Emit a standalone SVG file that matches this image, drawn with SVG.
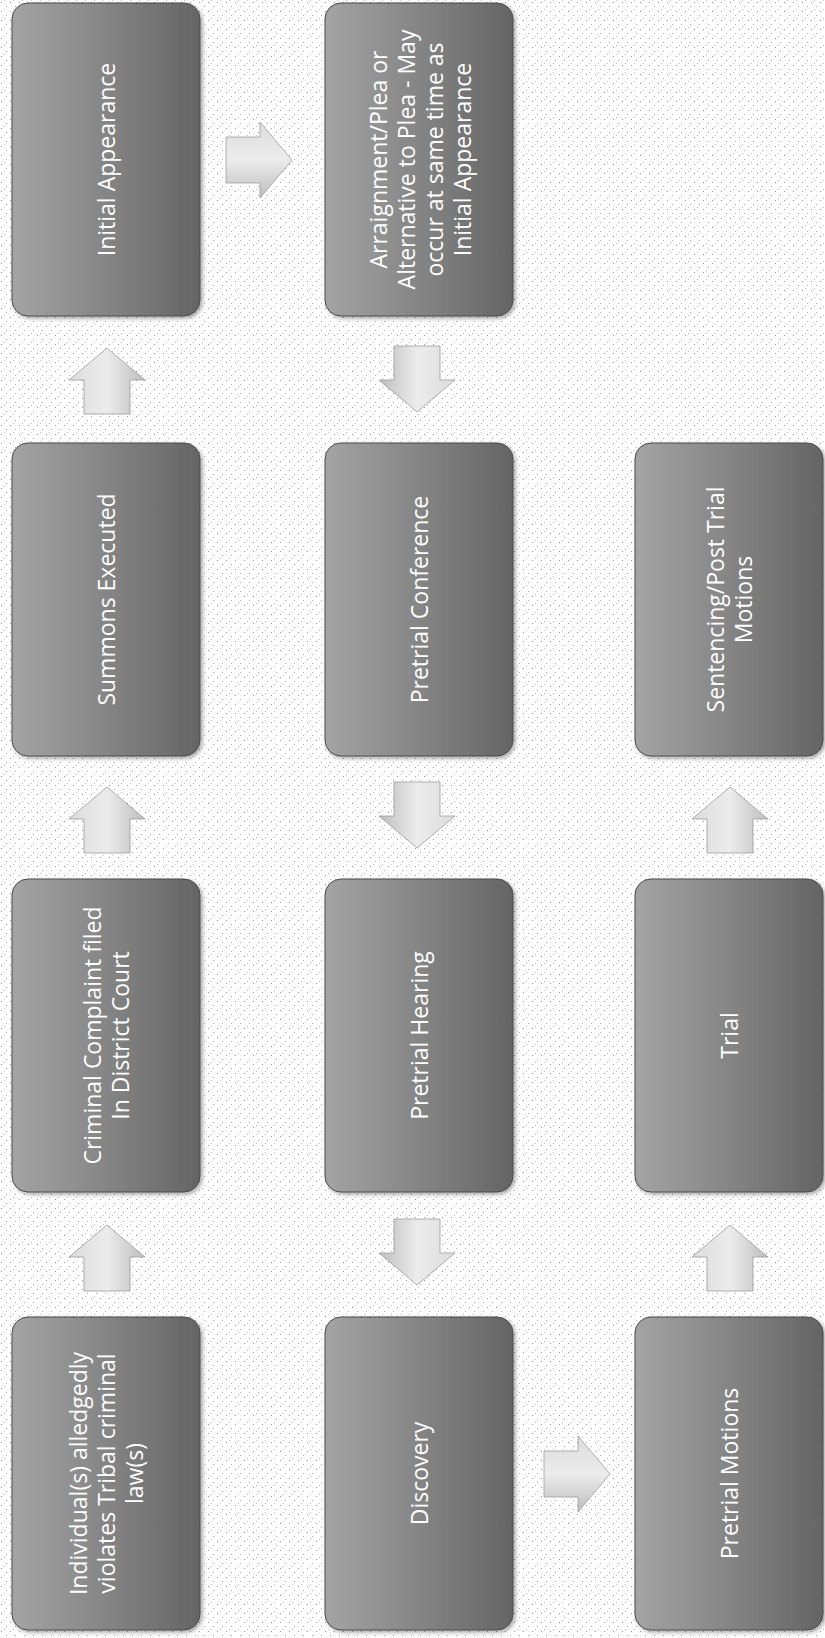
<svg xmlns="http://www.w3.org/2000/svg" width="825" height="1638" viewBox="0 0 825 1638">
<defs>
<style>
.box{fill:url(#boxGrad);stroke:#4a4a4a;stroke-width:1;filter:url(#shadow)}
.lbl{font-family:"Open Sans","Liberation Sans",sans-serif;font-size:23px;fill:#ffffff;text-anchor:middle;dominant-baseline:central}
.arrow{fill:url(#arrowGrad);stroke:#9c9c9c;stroke-width:0.8}
</style>
<pattern id="speck" width="9" height="9" patternUnits="userSpaceOnUse">
<rect x="1" y="2" width="1" height="1" fill="#9a9a9a"/>
<rect x="6" y="6" width="1" height="1" fill="#b0b0b0"/>
<rect x="4" y="0" width="1" height="1" fill="#c4c4c4"/>
</pattern>
<linearGradient id="boxGrad" x1="0" y1="0" x2="1" y2="0">
<stop offset="0" stop-color="#a4a4a4"/>
<stop offset="0.5" stop-color="#858585"/>
<stop offset="1" stop-color="#646464"/>
</linearGradient>
<linearGradient id="arrowGrad" x1="0" y1="0" x2="1" y2="0">
<stop offset="0" stop-color="#dcdcdc"/>
<stop offset="0.5" stop-color="#ececec"/>
<stop offset="1" stop-color="#bdbdbd"/>
</linearGradient>
<filter id="shadow" x="-10%" y="-10%" width="125%" height="125%">
<feDropShadow dx="2" dy="2" stdDeviation="2" flood-color="#000" flood-opacity="0.35"/>
</filter>
<path id="arr" d="M0,0 L38,32 L23,32 L23,66 L-23,66 L-23,32 L-38,32 Z"/>
</defs>
<rect width="825" height="1638" fill="#ffffff"/>
<rect width="825" height="1638" fill="url(#speck)"/>

<g id="connectors">
<use href="#arr" class="arrow" transform="translate(107,1225)"/>
<use href="#arr" class="arrow" transform="translate(107,787)"/>
<use href="#arr" class="arrow" transform="translate(107,348)"/>
<use href="#arr" class="arrow" transform="translate(292,160) rotate(90)"/>
<use href="#arr" class="arrow" transform="translate(417,412) rotate(180)"/>
<use href="#arr" class="arrow" transform="translate(417,848) rotate(180)"/>
<use href="#arr" class="arrow" transform="translate(417,1285) rotate(180)"/>
<use href="#arr" class="arrow" transform="translate(610,1474) rotate(90)"/>
<use href="#arr" class="arrow" transform="translate(730,1225)"/>
<use href="#arr" class="arrow" transform="translate(730,787)"/>
</g>

<g id="n1">
<rect class="box" x="12" y="1317" width="188" height="313" rx="16"/>
<text class="lbl" transform="translate(106,1473.5) rotate(-90)"><tspan x="0" y="-28">Individual(s) alledgedly</tspan><tspan x="0" y="0">violates Tribal criminal</tspan><tspan x="0" y="28">law(s)</tspan></text>
</g>
<g id="n2">
<rect class="box" x="12" y="879" width="188" height="313" rx="16"/>
<text class="lbl" transform="translate(106,1035.5) rotate(-90)"><tspan x="0" y="-14">Criminal Complaint filed</tspan><tspan x="0" y="14">In District Court</tspan></text>
</g>
<g id="n3">
<rect class="box" x="12" y="443" width="188" height="313" rx="16"/>
<text class="lbl" transform="translate(106,599.5) rotate(-90)"><tspan x="0" y="0">Summons Executed</tspan></text>
</g>
<g id="n4">
<rect class="box" x="12" y="3" width="188" height="313" rx="16"/>
<text class="lbl" transform="translate(106,159.5) rotate(-90)"><tspan x="0" y="0">Initial Appearance</tspan></text>
</g>
<g id="n5">
<rect class="box" x="325" y="3" width="188" height="313" rx="16"/>
<text class="lbl" transform="translate(420,159.5) rotate(-90)"><tspan x="0" y="-42">Arraignment/Plea or</tspan><tspan x="0" y="-14">Alternative to Plea - May</tspan><tspan x="0" y="14">occur at same time as</tspan><tspan x="0" y="42">Initial Appearance</tspan></text>
</g>
<g id="n6">
<rect class="box" x="325" y="443" width="188" height="313" rx="16"/>
<text class="lbl" transform="translate(419,599.5) rotate(-90)"><tspan x="0" y="0">Pretrial Conference</tspan></text>
</g>
<g id="n7">
<rect class="box" x="325" y="879" width="188" height="313" rx="16"/>
<text class="lbl" transform="translate(419,1035.5) rotate(-90)"><tspan x="0" y="0">Pretrial Hearing</tspan></text>
</g>
<g id="n8">
<rect class="box" x="325" y="1317" width="188" height="313" rx="16"/>
<text class="lbl" transform="translate(419,1473.5) rotate(-90)"><tspan x="0" y="0">Discovery</tspan></text>
</g>
<g id="n9">
<rect class="box" x="635" y="1317" width="188" height="313" rx="16"/>
<text class="lbl" transform="translate(729,1473.5) rotate(-90)"><tspan x="0" y="0">Pretrial Motions</tspan></text>
</g>
<g id="n10">
<rect class="box" x="635" y="879" width="188" height="313" rx="16"/>
<text class="lbl" transform="translate(729,1035.5) rotate(-90)"><tspan x="0" y="0">Trial</tspan></text>
</g>
<g id="n11">
<rect class="box" x="635" y="443" width="188" height="313" rx="16"/>
<text class="lbl" transform="translate(729,599.5) rotate(-90)"><tspan x="0" y="-14">Sentencing/Post Trial</tspan><tspan x="0" y="14">Motions</tspan></text>
</g>
</svg>
